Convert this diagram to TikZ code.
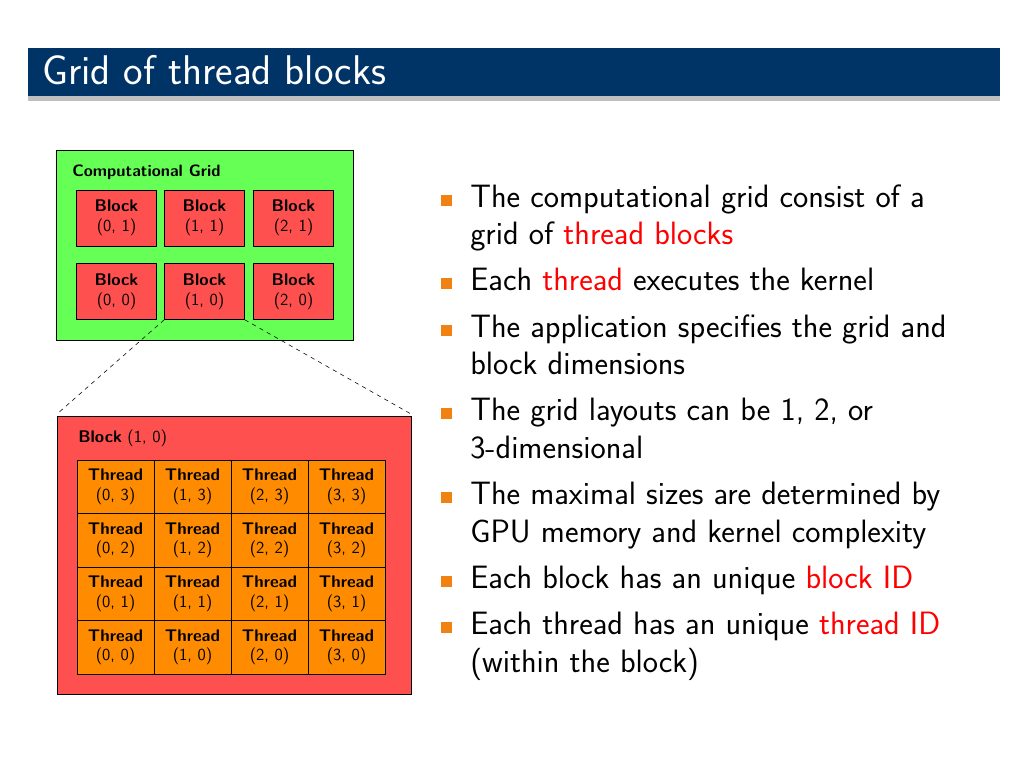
\documentclass[tikz,border=0pt]{standalone}
\usepackage{tikz}
\renewcommand{\familydefault}{\sfdefault}
\definecolor{titleblue}{RGB}{0,51,102}
\definecolor{gridgreen}{RGB}{102,255,85}
\definecolor{blockred}{RGB}{255,80,80}
\definecolor{threadorange}{RGB}{255,140,0}
\definecolor{bulletorange}{RGB}{240,130,20}
\tikzset{
    blockbox/.style={draw, fill=blockred, minimum width=2cm, minimum height=1.4cm, align=center, font=\fontsize{12}{14}\selectfont, inner sep=0pt},
    threadbox/.style={draw, fill=threadorange, minimum width=1.925cm, minimum height=1.3375cm, align=center, font=\fontsize{12}{14}\selectfont, inner sep=0pt},
    bullettext/.style={anchor=west, font=\fontsize{23}{27}\selectfont, inner sep=0pt}
}
\begin{document}
\begin{tikzpicture}[x=0.025cm, y=-0.025cm]
    \useasboundingbox (0,0) rectangle (1024,768);
    % title bar
    \fill[black!25] (28,96) rectangle (1000,101);
    \fill[titleblue] (28,48) rectangle (1000,96);
    \node (title) at (42,70) [anchor=west, text=white, font=\fontsize{29.5}{34}\selectfont, inner sep=0pt] {Grid of thread blocks};

    % computational grid
    \node (grid) at (56,150) [draw, fill=gridgreen, anchor=north west, minimum width=7.425cm, minimum height=4.75cm] {};
    \node (gridlabel) at (72,172) [anchor=west, font=\fontsize{11.7}{14}\selectfont\bfseries, inner sep=0pt] {Computational Grid};
    \foreach \i/\x in {0/116.5,1/204.5,2/293.5}{
        \node (b\i1) at (\x,218) [blockbox] {\textbf{Block}\\(\i, 1)};
        \node (b\i0) at (\x,291.5) [blockbox] {\textbf{Block}\\(\i, 0)};
    }
    \coordinate (zl) at (57,414);
    \coordinate (zr) at (411,414);
    \draw[dashed] (b10.south west) -- (zl);
    \draw[dashed] (b10.south east) -- (zr);

    % block (1,0)
    \node (blk) at (57,416) [draw, fill=blockred, anchor=north west, minimum width=8.85cm, minimum height=6.95cm] {};
    \node (blklabel) at (78,438) [anchor=west, font=\fontsize{12}{14}\selectfont, inner sep=0pt] {\textbf{Block} (1, 0)};
    \foreach \i in {0,...,3}
        \foreach \j in {0,...,3}{
            \node (t\i\j) at ({115.5+77*\i},{647.25-53.5*\j}) [threadbox] {\textbf{Thread}\\(\i, \j)};
        }

    % bullets
    \foreach \y/\t [count=\n] in {
        200/{The computational grid consist of a},
        283/{Each \textcolor{red}{thread} executes the kernel},
        330/{The application specifies the grid and},
        413/{The grid layouts can be 1, 2, or},
        497/{The maximal sizes are determined by},
        581/{Each block has an unique \textcolor{red}{block ID}},
        627/{Each thread has an unique \textcolor{red}{thread ID}}}{
        \fill[bulletorange] (441,{\y-5}) rectangle (452,{\y+6});
        \node (p\n) at (470,\y) [bullettext] {\strut\t};
    }
    \foreach \y/\t [count=\n] in {
        237/{grid of \textcolor{red}{thread blocks}},
        367/{block dimensions},
        451/{3-dimensional},
        535/{GPU memory and kernel complexity},
        665/{(within the block)}}{
        \node (q\n) at (470,\y) [bullettext] {\strut\t};
    }
\end{tikzpicture}
\end{document}
